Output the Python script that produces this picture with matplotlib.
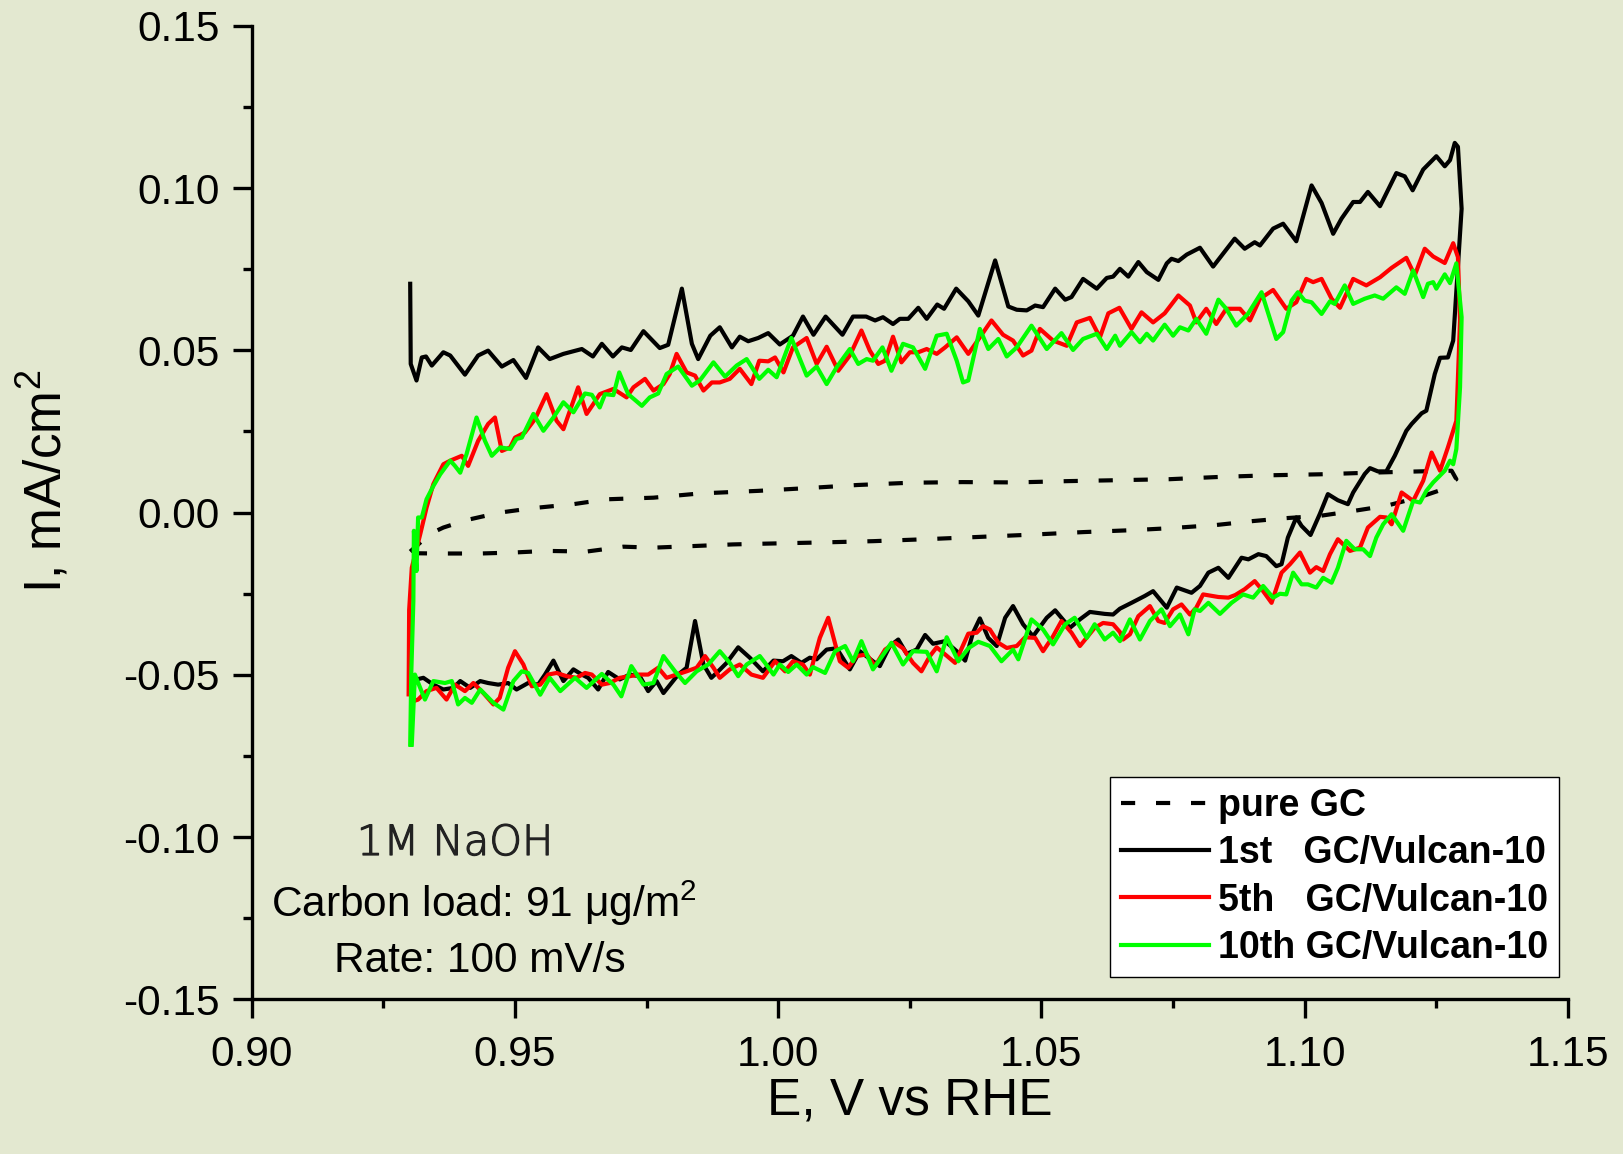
import numpy as np
import matplotlib
matplotlib.use("Agg")
import matplotlib.pyplot as plt
import matplotlib.patheffects as pe
from matplotlib.ticker import MultipleLocator, FormatStrFormatter

# ---------------------------------------------------------------- style
plt.rcParams["font.family"] = ["Liberation Sans", "DejaVu Sans"]
plt.rcParams["axes.unicode_minus"] = False
plt.rcParams["mathtext.fontset"] = "custom"
plt.rcParams["mathtext.rm"] = "Liberation Sans"
plt.rcParams["mathtext.it"] = "Liberation Sans:italic"

BG = "#e3e8d0"
C_1ST = "black"
C_5TH = "#ff0000"
C_10TH = "#00ff00"

# ---------------------------------------------------------------- data (E in V vs RHE, I in mA/cm2)
# pure GC, anodic then cathodic sweep
gc_up_E = [0.9301, 0.9339, 0.9364, 0.9408, 0.9471, 0.9535, 0.9611, 0.9674, 0.9763, 0.9851,
           0.9962, 1.0050, 1.0150, 1.0250, 1.0350, 1.0450, 1.0550, 1.0649, 1.0744, 1.0839,
           1.0934, 1.1029, 1.1124, 1.1219, 1.1279]
gc_up_I = [-0.0120, -0.0065, -0.0046, -0.0023, 0.0000, 0.0014, 0.0026, 0.0041, 0.0046, 0.0059,
           0.0067, 0.0075, 0.0085, 0.0092, 0.0094, 0.0093, 0.0097, 0.0100, 0.0103, 0.0110,
           0.0115, 0.0118, 0.0123, 0.0127, 0.0129]
gc_dn_E = [1.1288, 1.1263, 1.1219, 1.1155, 1.1092, 1.1029, 1.0965, 1.0902, 1.0833, 1.0744,
           1.0674, 1.0580, 1.0480, 1.0380, 1.0280, 1.0180, 1.0080, 0.9965, 0.9914, 0.9839,
           0.9763, 0.9706, 0.9636, 0.9560, 0.9497, 0.9434, 0.9351, 0.9301]
gc_dn_I = [0.0103, 0.0072, 0.0048, 0.0021, 0.0005, -0.0010, -0.0017, -0.0026, -0.0038, -0.0048,
           -0.0054, -0.0060, -0.0068, -0.0075, -0.0082, -0.0088, -0.0092, -0.0096, -0.0098, -0.0103,
           -0.0108, -0.0105, -0.0120, -0.0118, -0.0123, -0.0126, -0.0126, -0.0125]

# 1st cycle GC/Vulcan-10
c1_up_E = [0.9301, 0.9302, 0.9313, 0.9323, 0.9331, 0.9342, 0.9364, 0.9377, 0.9405, 0.9430,
           0.9449, 0.9475, 0.9497, 0.9521, 0.9544, 0.9566, 0.9592, 0.9627, 0.9648, 0.9665,
           0.9686, 0.9703, 0.9720, 0.9744, 0.9775, 0.9791, 0.9817, 0.9836, 0.9848, 0.9871,
           0.9889, 0.9912, 0.9927, 0.9943, 0.9962, 0.9981, 1.0003, 1.0028, 1.0047, 1.0067,
           1.0090, 1.0122, 1.0142, 1.0167, 1.0184, 1.0199, 1.0218, 1.0231, 1.0247, 1.0266,
           1.0282, 1.0302, 1.0315, 1.0338, 1.0361, 1.0380, 1.0412, 1.0437, 1.0453, 1.0472,
           1.0488, 1.0503, 1.0526, 1.0545, 1.0557, 1.0579, 1.0605, 1.0624, 1.0636, 1.0649,
           1.0665, 1.0684, 1.0700, 1.0722, 1.0738, 1.0747, 1.0760, 1.0776, 1.0801, 1.0826,
           1.0867, 1.0886, 1.0905, 1.0915, 1.0940, 1.0959, 1.0984, 1.1013, 1.1032, 1.1054,
           1.1070, 1.1092, 1.1105, 1.1120, 1.1143, 1.1174, 1.1190, 1.1205, 1.1225, 1.1250,
           1.1266, 1.1276, 1.1285, 1.1291, 1.1298]
c1_up_I = [0.0705, 0.0458, 0.0407, 0.0478, 0.0481, 0.0453, 0.0494, 0.0484, 0.0425, 0.0484,
           0.0499, 0.0450, 0.0470, 0.0415, 0.0509, 0.0473, 0.0489, 0.0504, 0.0481, 0.0520,
           0.0481, 0.0509, 0.0501, 0.0559, 0.0507, 0.0517, 0.0690, 0.0520, 0.0473, 0.0545,
           0.0571, 0.0509, 0.0542, 0.0528, 0.0538, 0.0553, 0.0518, 0.0545, 0.0604, 0.0548,
           0.0604, 0.0548, 0.0604, 0.0604, 0.0592, 0.0602, 0.0581, 0.0597, 0.0597, 0.0631,
           0.0597, 0.0641, 0.0628, 0.0690, 0.0651, 0.0607, 0.0777, 0.0635, 0.0625, 0.0623,
           0.0638, 0.0633, 0.0690, 0.0656, 0.0664, 0.0720, 0.0690, 0.0723, 0.0727, 0.0751,
           0.0727, 0.0772, 0.0741, 0.0717, 0.0768, 0.0782, 0.0775, 0.0795, 0.0816, 0.0758,
           0.0844, 0.0813, 0.0833, 0.0823, 0.0875, 0.0890, 0.0836, 0.1008, 0.0954, 0.0859,
           0.0906, 0.0957, 0.0957, 0.0988, 0.0944, 0.1046, 0.1036, 0.0993, 0.1057, 0.1098,
           0.1067, 0.1086, 0.1139, 0.1127, 0.0936]
c1_dn_E = [1.1282, 1.1272, 1.1257, 1.1247, 1.1231, 1.1222, 1.1203, 1.1193, 1.1171, 1.1155,
           1.1139, 1.1124, 1.1114, 1.1092, 1.1082, 1.1063, 1.1044, 1.1029, 1.1011, 1.0994,
           1.0984, 1.0968, 1.0956, 1.0946, 1.0927, 1.0912, 1.0893, 1.0880, 1.0855, 1.0836,
           1.0817, 1.0801, 1.0785, 1.0757, 1.0738, 1.0712, 1.0696, 1.0671, 1.0649, 1.0636,
           1.0620, 1.0592, 1.0573, 1.0554, 1.0526, 1.0510, 1.0484, 1.0465, 1.0446, 1.0431,
           1.0415, 1.0399, 1.0383, 1.0370, 1.0355, 1.0339, 1.0317, 1.0294, 1.0279, 1.0263,
           1.0244, 1.0228, 1.0212, 1.0193, 1.0180, 1.0155, 1.0136, 1.0111, 1.0092, 1.0073,
           1.0060, 1.0044, 1.0025, 1.0009, 0.9991, 0.9971, 0.9946, 0.9924, 0.9902, 0.9886,
           0.9873, 0.9858, 0.9842, 0.9826, 0.9810, 0.9782, 0.9769, 0.9753, 0.9737, 0.9718,
           0.9699, 0.9677, 0.9658, 0.9639, 0.9627, 0.9611, 0.9592, 0.9573, 0.9557, 0.9544,
           0.9525, 0.9503, 0.9487, 0.9468, 0.9449, 0.9434, 0.9415, 0.9396, 0.9383, 0.9364,
           0.9345, 0.9326, 0.9313, 0.9304]
c1_dn_I = [0.0530, 0.0478, 0.0477, 0.0427, 0.0314, 0.0306, 0.0273, 0.0252, 0.0175, 0.0127,
           0.0127, 0.0137, 0.0119, 0.0062, 0.0026, 0.0038, 0.0057, -0.0003, -0.0069, -0.0041,
           -0.0015, -0.0077, -0.0159, -0.0165, -0.0134, -0.0128, -0.0144, -0.0139, -0.0201, -0.0170,
           -0.0185, -0.0226, -0.0247, -0.0231, -0.0293, -0.0242, -0.0257, -0.0278, -0.0296, -0.0314,
           -0.0312, -0.0306, -0.0329, -0.0355, -0.0301, -0.0324, -0.0381, -0.0344, -0.0288, -0.0324,
           -0.0411, -0.0386, -0.0326, -0.0370, -0.0456, -0.0427, -0.0396, -0.0404, -0.0377, -0.0422,
           -0.0435, -0.0391, -0.0411, -0.0473, -0.0458, -0.0427, -0.0483, -0.0418, -0.0422, -0.0452,
           -0.0447, -0.0463, -0.0442, -0.0458, -0.0456, -0.0489, -0.0447, -0.0415, -0.0463, -0.0489,
           -0.0509, -0.0468, -0.0334, -0.0478, -0.0499, -0.0556, -0.0519, -0.0550, -0.0504, -0.0499,
           -0.0514, -0.0491, -0.0545, -0.0509, -0.0499, -0.0483, -0.0519, -0.0456, -0.0499, -0.0530,
           -0.0525, -0.0545, -0.0525, -0.0530, -0.0525, -0.0519, -0.0540, -0.0519, -0.0540, -0.0545,
           -0.0530, -0.0509, -0.0514, -0.0525]

# 5th cycle GC/Vulcan-10
c5_up_E = [0.9298, 0.9299, 0.9304, 0.9320, 0.9332, 0.9345, 0.9364, 0.9377, 0.9399, 0.9411,
           0.9430, 0.9449, 0.9462, 0.9475, 0.9491, 0.9500, 0.9519, 0.9538, 0.9560, 0.9579,
           0.9592, 0.9620, 0.9636, 0.9649, 0.9661, 0.9687, 0.9712, 0.9725, 0.9747, 0.9763,
           0.9782, 0.9794, 0.9807, 0.9826, 0.9842, 0.9858, 0.9874, 0.9889, 0.9908, 0.9927,
           0.9949, 0.9964, 0.9981, 0.9994, 1.0010, 1.0028, 1.0054, 1.0073, 1.0092, 1.0114,
           1.0136, 1.0158, 1.0174, 1.0190, 1.0203, 1.0218, 1.0234, 1.0250, 1.0266, 1.0282,
           1.0301, 1.0317, 1.0339, 1.0361, 1.0383, 1.0405, 1.0427, 1.0446, 1.0465, 1.0481,
           1.0497, 1.0522, 1.0548, 1.0567, 1.0592, 1.0611, 1.0627, 1.0648, 1.0671, 1.0690,
           1.0712, 1.0734, 1.0760, 1.0782, 1.0794, 1.0813, 1.0832, 1.0851, 1.0877, 1.0896,
           1.0915, 1.0940, 1.0965, 1.0984, 1.1003, 1.1016, 1.1032, 1.1051, 1.1067, 1.1092,
           1.1117, 1.1143, 1.1165, 1.1193, 1.1209, 1.1228, 1.1244, 1.1266, 1.1282, 1.1291]
c5_up_I = [-0.0560, -0.0300, -0.0170, -0.0067, 0.0015, 0.0088, 0.0149, 0.0160, 0.0175, 0.0144,
           0.0221, 0.0273, 0.0293, 0.0190, 0.0201, 0.0231, 0.0247, 0.0288, 0.0365, 0.0283,
           0.0257, 0.0386, 0.0304, 0.0335, 0.0365, 0.0381, 0.0355, 0.0386, 0.0412, 0.0376,
           0.0396, 0.0427, 0.0489, 0.0432, 0.0422, 0.0376, 0.0401, 0.0401, 0.0412, 0.0443,
           0.0396, 0.0468, 0.0466, 0.0478, 0.0432, 0.0509, 0.0538, 0.0458, 0.0511, 0.0437,
           0.0484, 0.0561, 0.0499, 0.0458, 0.0468, 0.0542, 0.0463, 0.0494, 0.0494, 0.0504,
           0.0489, 0.0509, 0.0540, 0.0489, 0.0540, 0.0592, 0.0548, 0.0530, 0.0484, 0.0499,
           0.0566, 0.0530, 0.0514, 0.0586, 0.0600, 0.0540, 0.0614, 0.0631, 0.0566, 0.0617,
           0.0586, 0.0614, 0.0669, 0.0638, 0.0586, 0.0628, 0.0581, 0.0628, 0.0628, 0.0592,
           0.0659, 0.0686, 0.0628, 0.0648, 0.0720, 0.0710, 0.0720, 0.0659, 0.0631, 0.0720,
           0.0700, 0.0725, 0.0754, 0.0785, 0.0731, 0.0813, 0.0789, 0.0769, 0.0830, 0.0787]
c5_dn_E = [1.1295, 1.1288, 1.1282, 1.1272, 1.1257, 1.1241, 1.1225, 1.1206, 1.1184, 1.1165,
           1.1155, 1.1143, 1.1120, 1.1105, 1.1086, 1.1063, 1.1048, 1.1035, 1.1022, 1.1010,
           1.0991, 1.0972, 1.0956, 1.0937, 1.0921, 1.0905, 1.0886, 1.0868, 1.0855, 1.0836,
           1.0807, 1.0794, 1.0782, 1.0766, 1.0750, 1.0734, 1.0722, 1.0706, 1.0684, 1.0668,
           1.0655, 1.0649, 1.0636, 1.0617, 1.0601, 1.0573, 1.0557, 1.0538, 1.0522, 1.0503,
           1.0488, 1.0469, 1.0453, 1.0434, 1.0418, 1.0402, 1.0389, 1.0377, 1.0361, 1.0336,
           1.0317, 1.0301, 1.0288, 1.0272, 1.0256, 1.0237, 1.0222, 1.0203, 1.0184, 1.0168,
           1.0149, 1.0133, 1.0117, 1.0095, 1.0079, 1.0060, 1.0047, 1.0028, 1.0013, 0.9994,
           0.9971, 0.9949, 0.9927, 0.9908, 0.9889, 0.9877, 0.9861, 0.9845, 0.9826, 0.9807,
           0.9788, 0.9772, 0.9753, 0.9734, 0.9718, 0.9699, 0.9680, 0.9665, 0.9646, 0.9633,
           0.9617, 0.9598, 0.9579, 0.9563, 0.9548, 0.9532, 0.9516, 0.9500, 0.9487, 0.9471,
           0.9459, 0.9440, 0.9421, 0.9405, 0.9386, 0.9370, 0.9351, 0.9332, 0.9316, 0.9307,
           0.9301]
c5_dn_I = [0.0592, 0.0283, 0.0252, 0.0201, 0.0129, 0.0185, 0.0098, 0.0036, 0.0062, -0.0036,
           -0.0015, -0.0013, -0.0046, -0.0108, -0.0118, -0.0082, -0.0128, -0.0180, -0.0168, -0.0185,
           -0.0123, -0.0159, -0.0185, -0.0278, -0.0242, -0.0211, -0.0236, -0.0254, -0.0262, -0.0260,
           -0.0252, -0.0293, -0.0314, -0.0283, -0.0298, -0.0340, -0.0334, -0.0288, -0.0319, -0.0375,
           -0.0391, -0.0368, -0.0344, -0.0340, -0.0355, -0.0411, -0.0370, -0.0334, -0.0381, -0.0427,
           -0.0386, -0.0384, -0.0411, -0.0417, -0.0401, -0.0360, -0.0350, -0.0370, -0.0373, -0.0463,
           -0.0437, -0.0415, -0.0442, -0.0489, -0.0463, -0.0418, -0.0401, -0.0422, -0.0473, -0.0437,
           -0.0442, -0.0478, -0.0458, -0.0324, -0.0386, -0.0499, -0.0468, -0.0458, -0.0489, -0.0458,
           -0.0509, -0.0499, -0.0468, -0.0483, -0.0509, -0.0478, -0.0442, -0.0478, -0.0489, -0.0499,
           -0.0509, -0.0478, -0.0499, -0.0499, -0.0504, -0.0509, -0.0525, -0.0530, -0.0499, -0.0494,
           -0.0509, -0.0504, -0.0494, -0.0499, -0.0530, -0.0535, -0.0468, -0.0427, -0.0478, -0.0571,
           -0.0591, -0.0556, -0.0525, -0.0550, -0.0530, -0.0576, -0.0540, -0.0550, -0.0576, -0.0581,
           -0.0540]

# 10th cycle GC/Vulcan-10
c10_up_E = [0.9301, 0.9303, 0.9307, 0.9308, 0.9313, 0.9316, 0.9323, 0.9332, 0.9345, 0.9358,
            0.9377, 0.9386, 0.9396, 0.9408, 0.9427, 0.9443, 0.9456, 0.9472, 0.9491, 0.9503,
            0.9513, 0.9535, 0.9554, 0.9573, 0.9592, 0.9611, 0.9633, 0.9646, 0.9661, 0.9671,
            0.9687, 0.9698, 0.9715, 0.9741, 0.9756, 0.9772, 0.9788, 0.9810, 0.9836, 0.9851,
            0.9877, 0.9899, 0.9921, 0.9940, 0.9964, 0.9981, 0.9997, 1.0025, 1.0054, 1.0073,
            1.0092, 1.0111, 1.0136, 1.0152, 1.0168, 1.0180, 1.0198, 1.0215, 1.0237, 1.0256,
            1.0279, 1.0301, 1.0320, 1.0339, 1.0351, 1.0361, 1.0383, 1.0399, 1.0418, 1.0434,
            1.0453, 1.0481, 1.0510, 1.0538, 1.0560, 1.0579, 1.0605, 1.0624, 1.0640, 1.0649,
            1.0671, 1.0687, 1.0700, 1.0712, 1.0734, 1.0750, 1.0763, 1.0779, 1.0794, 1.0813,
            1.0836, 1.0851, 1.0870, 1.0892, 1.0918, 1.0946, 1.0959, 1.0975, 1.0987, 1.1000,
            1.1013, 1.1032, 1.1048, 1.1057, 1.1076, 1.1092, 1.1114, 1.1133, 1.1149, 1.1174,
            1.1190, 1.1206, 1.1225, 1.1234, 1.1244, 1.1250, 1.1266, 1.1276, 1.1288]
c10_up_I = [-0.0715, -0.0499, -0.0273, -0.0056, -0.0180, -0.0015, -0.0015, 0.0041, 0.0082, 0.0118,
            0.0160, 0.0144, 0.0123, 0.0180, 0.0293, 0.0221, 0.0175, 0.0201, 0.0196, 0.0227,
            0.0231, 0.0304, 0.0252, 0.0293, 0.0340, 0.0309, 0.0367, 0.0363, 0.0324, 0.0365,
            0.0362, 0.0432, 0.0365, 0.0329, 0.0355, 0.0367, 0.0427, 0.0450, 0.0391, 0.0407,
            0.0463, 0.0419, 0.0453, 0.0473, 0.0412, 0.0440, 0.0417, 0.0538, 0.0422, 0.0450,
            0.0396, 0.0448, 0.0504, 0.0458, 0.0473, 0.0468, 0.0509, 0.0437, 0.0520, 0.0509,
            0.0443, 0.0545, 0.0551, 0.0468, 0.0401, 0.0407, 0.0566, 0.0504, 0.0535, 0.0481,
            0.0509, 0.0576, 0.0504, 0.0553, 0.0501, 0.0535, 0.0551, 0.0504, 0.0545, 0.0514,
            0.0556, 0.0525, 0.0551, 0.0530, 0.0579, 0.0545, 0.0571, 0.0561, 0.0597, 0.0551,
            0.0656, 0.0628, 0.0576, 0.0612, 0.0679, 0.0535, 0.0556, 0.0653, 0.0679, 0.0653,
            0.0648, 0.0612, 0.0651, 0.0643, 0.0700, 0.0643, 0.0659, 0.0669, 0.0659, 0.0694,
            0.0674, 0.0746, 0.0664, 0.0705, 0.0710, 0.0690, 0.0734, 0.0707, 0.0768]
c10_dn_E = [1.1298, 1.1295, 1.1288, 1.1282, 1.1276, 1.1266, 1.1244, 1.1231, 1.1219, 1.1206,
            1.1187, 1.1174, 1.1165, 1.1149, 1.1136, 1.1124, 1.1111, 1.1095, 1.1079, 1.1063,
            1.1051, 1.1035, 1.1022, 1.1006, 1.0994, 1.0978, 1.0965, 1.0953, 1.0940, 1.0921,
            1.0902, 1.0883, 1.0861, 1.0839, 1.0817, 1.0801, 1.0791, 1.0779, 1.0763, 1.0744,
            1.0728, 1.0706, 1.0687, 1.0668, 1.0649, 1.0636, 1.0620, 1.0601, 1.0586, 1.0563,
            1.0545, 1.0522, 1.0503, 1.0481, 1.0456, 1.0446, 1.0424, 1.0402, 1.0380, 1.0361,
            1.0342, 1.0320, 1.0301, 1.0282, 1.0256, 1.0237, 1.0215, 1.0180, 1.0158, 1.0142,
            1.0127, 1.0108, 1.0089, 1.0066, 1.0054, 1.0035, 1.0019, 1.0003, 0.9991, 0.9975,
            0.9965, 0.9940, 0.9924, 0.9908, 0.9889, 0.9867, 0.9845, 0.9823, 0.9804, 0.9782,
            0.9763, 0.9744, 0.9721, 0.9702, 0.9687, 0.9665, 0.9636, 0.9614, 0.9586, 0.9566,
            0.9548, 0.9525, 0.9513, 0.9497, 0.9478, 0.9459, 0.9434, 0.9418, 0.9405, 0.9392,
            0.9380, 0.9367, 0.9345, 0.9329, 0.9320, 0.9310, 0.9304]
c10_dn_I = [0.0602, 0.0386, 0.0196, 0.0149, 0.0160, 0.0129, 0.0093, 0.0067, 0.0031, 0.0036,
            -0.0056, -0.0026, -0.0005, -0.0036, -0.0077, -0.0134, -0.0113, -0.0113, -0.0087, -0.0170,
            -0.0216, -0.0201, -0.0231, -0.0221, -0.0221, -0.0185, -0.0252, -0.0250, -0.0262, -0.0226,
            -0.0262, -0.0252, -0.0278, -0.0312, -0.0278, -0.0303, -0.0298, -0.0375, -0.0314, -0.0350,
            -0.0298, -0.0334, -0.0391, -0.0329, -0.0396, -0.0370, -0.0391, -0.0344, -0.0386, -0.0324,
            -0.0344, -0.0406, -0.0360, -0.0329, -0.0452, -0.0422, -0.0458, -0.0411, -0.0398, -0.0418,
            -0.0458, -0.0384, -0.0489, -0.0429, -0.0427, -0.0468, -0.0401, -0.0483, -0.0396, -0.0458,
            -0.0411, -0.0427, -0.0494, -0.0476, -0.0499, -0.0468, -0.0491, -0.0468, -0.0499, -0.0463,
            -0.0442, -0.0468, -0.0504, -0.0463, -0.0427, -0.0468, -0.0489, -0.0525, -0.0489, -0.0442,
            -0.0525, -0.0530, -0.0473, -0.0566, -0.0530, -0.0497, -0.0540, -0.0509, -0.0550, -0.0509,
            -0.0561, -0.0494, -0.0489, -0.0519, -0.0607, -0.0586, -0.0545, -0.0586, -0.0571, -0.0591,
            -0.0519, -0.0525, -0.0519, -0.0576, -0.0540, -0.0499, -0.0715]

labels = ["pure GC", "1st   GC/Vulcan-10", "5th   GC/Vulcan-10", "10th GC/Vulcan-10"]

# ---------------------------------------------------------------- canvas
fig = plt.figure(figsize=(16.24, 11.54), dpi=100, facecolor=BG)
ax = fig.add_axes([0.155, 0.1339, 0.8105, 0.8438], facecolor=BG)

LW = 3.0
ax.plot(gc_up_E + gc_dn_E, gc_up_I + gc_dn_I, color="black", lw=LW,
        dashes=(3.4, 5.0), label=labels[0])
ax.plot(c1_up_E + c1_dn_E, c1_up_I + c1_dn_I, color=C_1ST, lw=LW,
        solid_joinstyle="round", label=labels[1])
ax.plot(c5_up_E + c5_dn_E, c5_up_I + c5_dn_I, color=C_5TH, lw=LW,
        solid_joinstyle="round", label=labels[2])
ax.plot(c10_up_E + c10_dn_E, c10_up_I + c10_dn_I, color=C_10TH, lw=LW,
        solid_joinstyle="round", label=labels[3])

# ---------------------------------------------------------------- axes
ax.set_xlim(0.90, 1.15)
ax.set_ylim(-0.15, 0.15)
ax.xaxis.set_major_locator(MultipleLocator(0.05))
ax.xaxis.set_minor_locator(MultipleLocator(0.025))
ax.yaxis.set_major_locator(MultipleLocator(0.05))
ax.yaxis.set_minor_locator(MultipleLocator(0.025))
ax.xaxis.set_major_formatter(FormatStrFormatter("%.2f"))
ax.yaxis.set_major_formatter(FormatStrFormatter("%.2f"))

for side in ("top", "right"):
    ax.spines[side].set_visible(False)
for side in ("left", "bottom"):
    ax.spines[side].set_linewidth(2.4)

ax.tick_params(which="major", direction="out", length=13.7, width=2.4, labelsize=30.5)
ax.tick_params(which="minor", direction="out", length=6.7, width=2.4)
ax.tick_params(axis="x", which="major", pad=12)
ax.tick_params(axis="y", which="major", pad=9.5)

ax.set_xlabel("E, V vs RHE", fontsize=37)
ax.set_ylabel("I, mA/cm$^2$", fontsize=37)
ax.xaxis.set_label_coords(0.5, -0.0796)
ax.yaxis.set_label_coords(-0.136, 0.532)

# ---------------------------------------------------------------- notes
fig.text(455 / 1624, 1 - 855 / 1154, "1M NaOH", ha="center", va="baseline",
         fontsize=30, color="#222222", family=["DejaVu Sans"], fontweight="light",
         path_effects=[pe.withStroke(linewidth=0.9, foreground="#222222")])
fig.text(484 / 1624, 1 - 916.7 / 1154, "Carbon load: 91 \u03bcg/m$^2$", ha="center",
         va="baseline", fontsize=30.5)
fig.text(480 / 1624, 1 - 971.7 / 1154, "Rate: 100 mV/s", ha="center",
         va="baseline", fontsize=30.5)

# ---------------------------------------------------------------- legend
leg = ax.legend(loc="lower right", bbox_to_anchor=(1559 / 1624, 1 - 977 / 1154),
                bbox_transform=fig.transFigure, borderaxespad=0,
                prop={"family": "Liberation Sans", "weight": "bold", "size": 27},
                frameon=True, fancybox=False, framealpha=1, facecolor="white",
                edgecolor="black", borderpad=0.3, labelspacing=0.3,
                handlelength=2.35, handletextpad=0.22)
leg.get_frame().set_linewidth(1.0)

fig.savefig("out.png", dpi=100, facecolor=BG)
